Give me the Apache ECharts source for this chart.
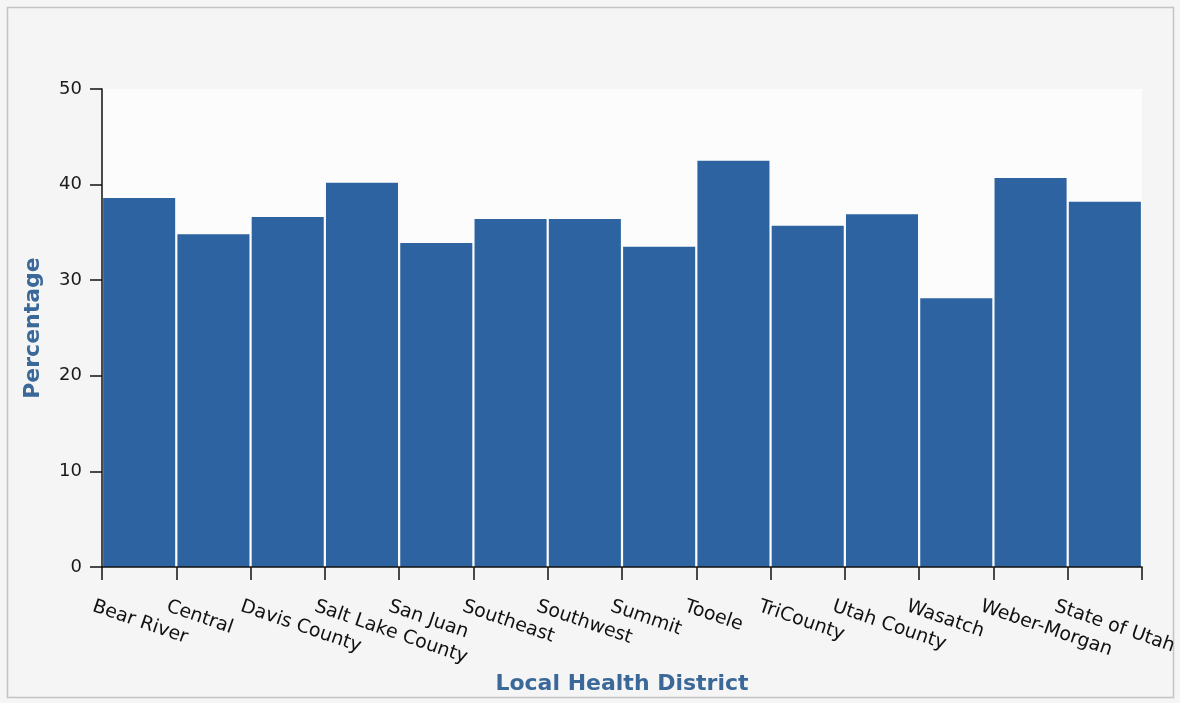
<!DOCTYPE html>
<html>
<head>
<meta charset="utf-8">
<script src="https://cdn.jsdelivr.net/npm/echarts@6/dist/echarts.min.js"></script>
<style>
  html, body { margin: 0; padding: 0; background: #f5f5f5; }
  #chart { width: 1180px; height: 703px; }
</style>
</head>
<body>
<div id="chart"></div>
<script>
const districts = ['Bear River', 'Central', 'Davis County', 'Salt Lake County', 'San Juan',
  'Southeast', 'Southwest', 'Summit', 'Tooele', 'TriCounty', 'Utah County', 'Wasatch',
  'Weber-Morgan', 'State of Utah'];
const percentage = [38.6, 34.8, 36.6, 40.2, 33.9, 36.4, 36.4, 33.5, 42.5, 35.7, 36.9, 28.1, 40.7, 38.2];
const yTicks = { min: 0, max: 50, interval: 10 };

const chart = echarts.init(document.getElementById('chart'), null, { renderer: 'canvas' });
const font = 'DejaVu Sans';
const titleBlue = '#3a6898';

chart.setOption({
  backgroundColor: '#f5f5f5',
  animation: false,
  graphic: [{
    type: 'rect',
    shape: { x: 7.5, y: 7.5, width: 1166, height: 690 },
    style: { fill: 'transparent', stroke: '#c4c4c4', lineWidth: 1.5 },
    silent: true,
  }],
  grid: [
    { left: 102, right: 38, top: 89, bottom: 136, show: true, backgroundColor: '#fcfcfc', borderWidth: 0 },
    // labels sit just left of each band edge, so they get their own shifted grid
    { left: 93, right: 47, top: 89, bottom: 136 },
  ],
  xAxis: [
    {
      type: 'category',
      gridIndex: 0,
      data: districts,
      boundaryGap: true,
      name: 'Local Health District',
      nameLocation: 'middle',
      nameGap: 106,
      nameTextStyle: { color: titleBlue, fontFamily: font, fontWeight: 'bold', fontSize: 22 },
      axisLine: { show: true, lineStyle: { color: '#111', width: 1.5 } },
      axisTick: { show: true, interval: 0, alignWithLabel: false, length: 13, lineStyle: { color: '#111', width: 1.5 } },
      axisLabel: { show: false },
      z: 5,
    },
    {
      type: 'category',
      gridIndex: 1,
      data: districts.concat(['']),
      boundaryGap: false,
      axisLine: { show: false },
      axisTick: { show: false },
      axisLabel: { interval: 0, rotate: -19, margin: 39, color: '#111', fontFamily: font, fontSize: 19 },
    },
  ],
  yAxis: [
    {
      type: 'value',
      gridIndex: 0,
      ...yTicks,
      name: 'Percentage',
      nameLocation: 'middle',
      nameGap: 58,
      nameTextStyle: { color: titleBlue, fontFamily: font, fontWeight: 'bold', fontSize: 22 },
      axisLine: { show: true, lineStyle: { color: '#111', width: 1.5 } },
      axisTick: { show: true, length: 12, lineStyle: { color: '#111', width: 1.5 } },
      axisLabel: { margin: 20, color: '#1a1a1a', fontFamily: font, fontSize: 18 },
      splitLine: { show: false },
    },
    { type: 'value', gridIndex: 1, ...yTicks, show: false },
  ],
  series: [{
    type: 'bar',
    xAxisIndex: 0,
    yAxisIndex: 0,
    data: percentage,
    barCategoryGap: '3%',
    itemStyle: { color: '#2c63a0' },
  }],
});
</script>
</body>
</html>
